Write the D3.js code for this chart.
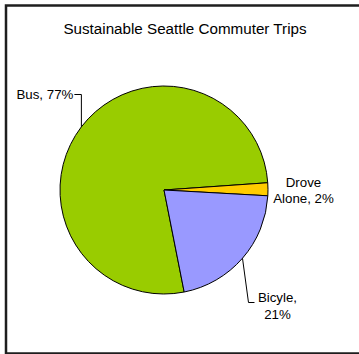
<!DOCTYPE html>
<html>
<head>
<meta charset="utf-8">
<script src="https://cdn.jsdelivr.net/npm/d3@7"></script>
<style>
  html, body { margin: 0; padding: 0; background: #fff; }
  svg { display: block; }
  text { font-family: "Liberation Sans", Arial, sans-serif; fill: #000; }
</style>
</head>
<body>
<svg id="chart" width="359" height="354"></svg>
<script>
// Commuter trip shares (percent)
const categories = ["Bus", "Drove Alone", "Bicyle"];
const values = [77, 2, 21];
const colors = ["#99CC00", "#FFCC00", "#9999FF"];
const title = "Sustainable Seattle Commuter Trips";

const svg = d3.select("#chart");
const W = 359, H = 354;

// chart frame
svg.append("rect")
  .attr("x", 6).attr("y", 5.5)
  .attr("width", 362).attr("height", 348)
  .attr("fill", "#fff")
  .attr("stroke", "#1e1e1e")
  .attr("stroke-width", 2.5);

svg.append("text")
  .attr("x", 185).attr("y", 33.5)
  .attr("text-anchor", "middle")
  .attr("font-size", 15.2)
  .text(title);

const cx = 164, cy = 190, r = 104;
const data = categories.map((c, i) => ({ cat: c, value: values[i], color: colors[i] }));

// slices run clockwise; the Bus slice begins a little past 5 o'clock
const start = 168.8 * Math.PI / 180;
const pie = d3.pie().value(d => d.value).sort(null)
  .startAngle(start).endAngle(start + 2 * Math.PI);
const arcs = pie(data);
const arc = d3.arc().innerRadius(0).outerRadius(r);

const g = svg.append("g").attr("transform", `translate(${cx},${cy})`);
g.selectAll("path").data(arcs).enter().append("path")
  .attr("d", arc)
  .attr("fill", d => d.data.color)
  .attr("stroke", "#000")
  .attr("stroke-width", 1)
  .attr("stroke-linejoin", "round");

// point on the rim at the middle of a slice
function rim(a) {
  const m = (a.startAngle + a.endAngle) / 2;
  return [cx + r * Math.sin(m), cy - r * Math.cos(m)];
}
const label = d => `${d.data.cat}, ${d.data.value}%`;
const fs = 13.3;

// Bus: leader goes up from the rim, then left to the label
{
  const a = arcs[0];
  const [px, py] = rim(a);
  const ly = 94.5;
  svg.append("path")
    .attr("d", `M${px},${py}V${ly}H${px - 7}`)
    .attr("fill", "none").attr("stroke", "#000").attr("stroke-width", 1);
  svg.append("text")
    .attr("x", px - 8).attr("y", ly + 4.5)
    .attr("text-anchor", "end")
    .attr("font-size", fs)
    .text(label(a));
}

// Drove Alone: two-line label just outside the rim
{
  const a = arcs[1];
  const [px, py] = rim(a);
  const t = svg.append("text")
    .attr("text-anchor", "middle")
    .attr("font-size", fs);
  t.append("tspan").attr("x", px + 35.5).attr("y", py - 2.5).text("Drove");
  t.append("tspan").attr("x", px + 35.5).attr("y", py + 13.5)
    .text(`Alone, ${a.data.value}%`);
}

// Bicyle: leader drops from the rim, then a short tick to the label
{
  const a = arcs[2];
  const [px, py] = rim(a);
  const ey = 302.5;
  svg.append("path")
    .attr("d", `M${px},${py}L${px + 6},${ey}H${px + 12}`)
    .attr("fill", "none").attr("stroke", "#000").attr("stroke-width", 1);
  const t = svg.append("text")
    .attr("text-anchor", "middle")
    .attr("font-size", fs);
  t.append("tspan").attr("x", px + 35).attr("y", ey - 0.5).text(`${a.data.cat},`);
  t.append("tspan").attr("x", px + 35).attr("y", ey + 16.5).text(`${a.data.value}%`);
}
</script>
</body>
</html>
